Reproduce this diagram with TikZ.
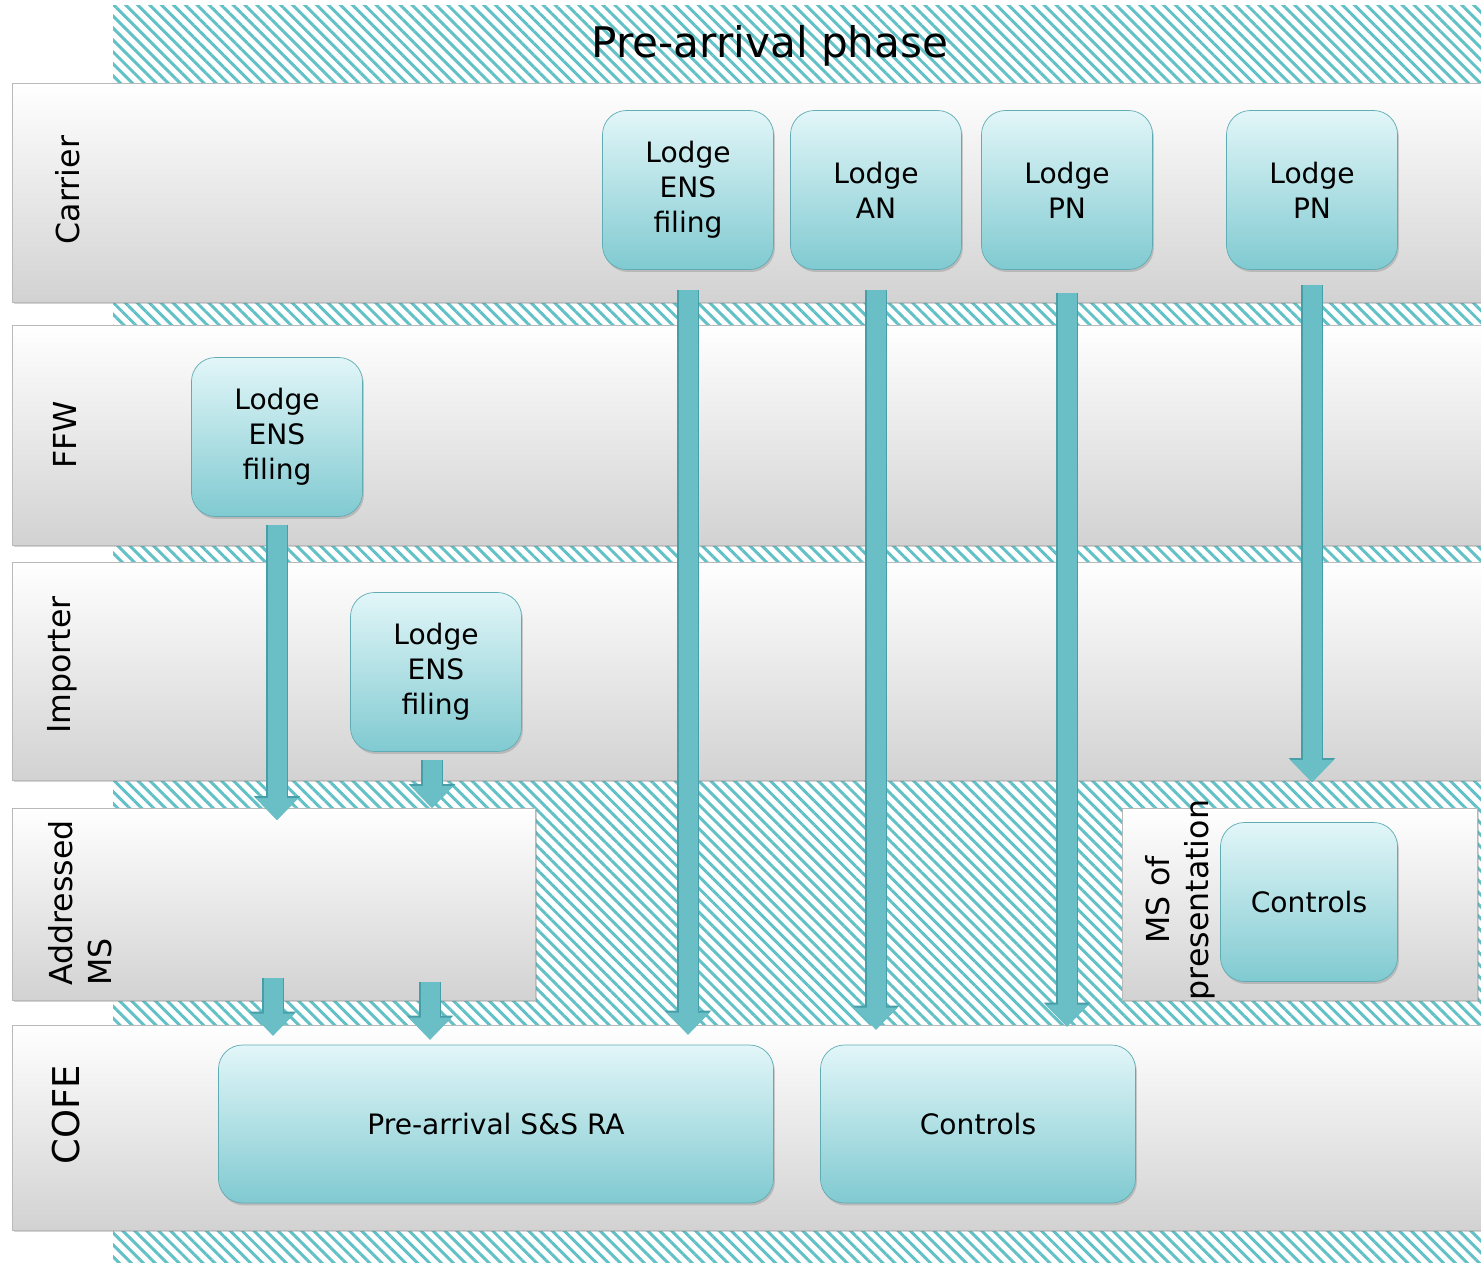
\documentclass[tikz,border=0pt]{standalone}
\usepackage{fontspec}
\setmainfont{DejaVu Sans}
\usetikzlibrary{arrows.meta,patterns.meta,shadows}

\definecolor{hatch}{RGB}{98,192,199}
\definecolor{lanebot}{RGB}{210,210,210}
\definecolor{tasktop}{RGB}{226,246,248}
\definecolor{taskbot}{RGB}{128,202,209}
\definecolor{taskedge}{RGB}{96,172,180}
\definecolor{flowfill}{RGB}{106,190,198}
\definecolor{flowedge}{RGB}{70,158,168}

\begin{document}
\begin{tikzpicture}[
        x=0.2mm, y=-0.2mm,
        lane/.style={
            rectangle,
            draw=gray!55,
            top color=white,
            middle color=gray!5,
            bottom color=lanebot,
            inner sep=0pt,
            outer sep=0pt,
            anchor=north west,
            drop shadow={shadow xshift=1pt, shadow yshift=-1.2pt, opacity=0.35}
        },
        lanelabel/.style={
            rotate=90,
            align=center,
            font=\fontsize{18}{22}\selectfont
        },
        task/.style={
            rectangle,
            draw=taskedge,
            top color=tasktop,
            bottom color=taskbot,
            rounded corners=4.8mm,
            minimum width=34.2mm,
            minimum height=31.8mm,
            align=center,
            font=\fontsize{16}{20}\selectfont,
            drop shadow={shadow xshift=0.8pt, shadow yshift=-1.4pt, opacity=0.35}
        },
        flow/.style={
            preaction={draw=flowedge, line width=4.4mm,
                -{Triangle[width=9mm, length=4.8mm]}},
            draw=flowfill,
            line width=3.8mm,
            -{Triangle[width=8.4mm, length=4.4mm]}
        }
    ]

    \useasboundingbox (0,0) rectangle (1481,1263);

    % --- Background: hatched phase area ---
    \fill[pattern={Lines[angle=-45, distance=4.8pt, line width=1.7pt]},
        pattern color=hatch] (113,5) rectangle (1481,1263);
    \node (title) at (770,46) {\fontsize{24}{28}\selectfont Pre-arrival phase};

    % --- Swim lanes ---
    \node[lane, minimum width=293.8mm, minimum height=43.8mm] (carrier) at (12,83) {};
    \node[lane, minimum width=293.8mm, minimum height=44mm] (ffw) at (12,325) {};
    \node[lane, minimum width=293.8mm, minimum height=43.6mm] (importer) at (12,562) {};
    \node[lane, minimum width=104.6mm, minimum height=38.4mm] (addr) at (12,808) {};
    \node[lane, minimum width=71mm, minimum height=38.4mm] (mspres) at (1122,808) {};
    \node[lane, minimum width=293.8mm, minimum height=41mm] (cofe) at (12,1025) {};

    \node[lanelabel] (lCarrier) at (68,190) {Carrier};
    \node[lanelabel] (lFfw) at (65,435) {FFW};
    \node[lanelabel] (lImporter) at (62,665) {Importer};
    \node[lanelabel, align=left] (lAddr) at (80,903) {Addressed\\MS};
    \node[lanelabel] (lMspres) at (1180,900) {MS of\\presentation};
    \node[lanelabel, font=\fontsize{21}{25}\selectfont] (lCofe) at (66,1115) {COFE};

    % --- Tasks ---
    \node[task] (ensC) at (688,190) {Lodge\\ENS\\filing};
    \node[task] (an) at (876,190) {Lodge\\AN};
    \node[task] (pnA) at (1067,190) {Lodge\\PN};
    \node[task] (pnB) at (1312,190) {Lodge\\PN};
    \node[task] (ensF) at (277,437) {Lodge\\ENS\\filing};
    \node[task] (ensI) at (436,672) {Lodge\\ENS\\filing};
    \node[task, minimum width=35.4mm] (msctl) at (1309,902) {Controls};
    \node[task, minimum width=111mm, minimum height=31.6mm] (ra) at (496,1124) {Pre-arrival S\&S RA};
    \node[task, minimum width=63mm, minimum height=31.6mm] (ctl) at (978,1124) {Controls};

    % Flows
    \draw[flow] ([yshift=-4mm]ensC.south) -- ([yshift=2mm]ensC.south |- ra.north);
    \draw[flow] ([yshift=-4mm]an.south) -- ([yshift=3mm]an.south |- ctl.north);
    \draw[flow] ([yshift=-4.6mm]pnA.south) -- ([yshift=3.6mm]pnA.south |- ctl.north);
    \draw[flow] ([yshift=-3mm]pnB.south) -- ([yshift=8mm]pnB.south |- msctl.north);
    \draw[flow] ([yshift=-1.6mm]ensF.south) -- ([yshift=-2.4mm]ensF.south |- addr.north);
    \draw[flow] ([xshift=-0.8mm, yshift=-1.6mm]ensI.south) -- ([xshift=-0.8mm]ensI.south |- addr.north);
    \draw[flow] ([xshift=-0.8mm, yshift=4.4mm]ensF.south |- addr.south) -- ([xshift=-0.8mm, yshift=1.8mm]ensF.south |- ra.north);
    \draw[flow] ([xshift=-1.2mm, yshift=3.6mm]ensI.south |- addr.south) -- ([xshift=-1.2mm, yshift=1mm]ensI.south |- ra.north);

\end{tikzpicture}
\end{document}
